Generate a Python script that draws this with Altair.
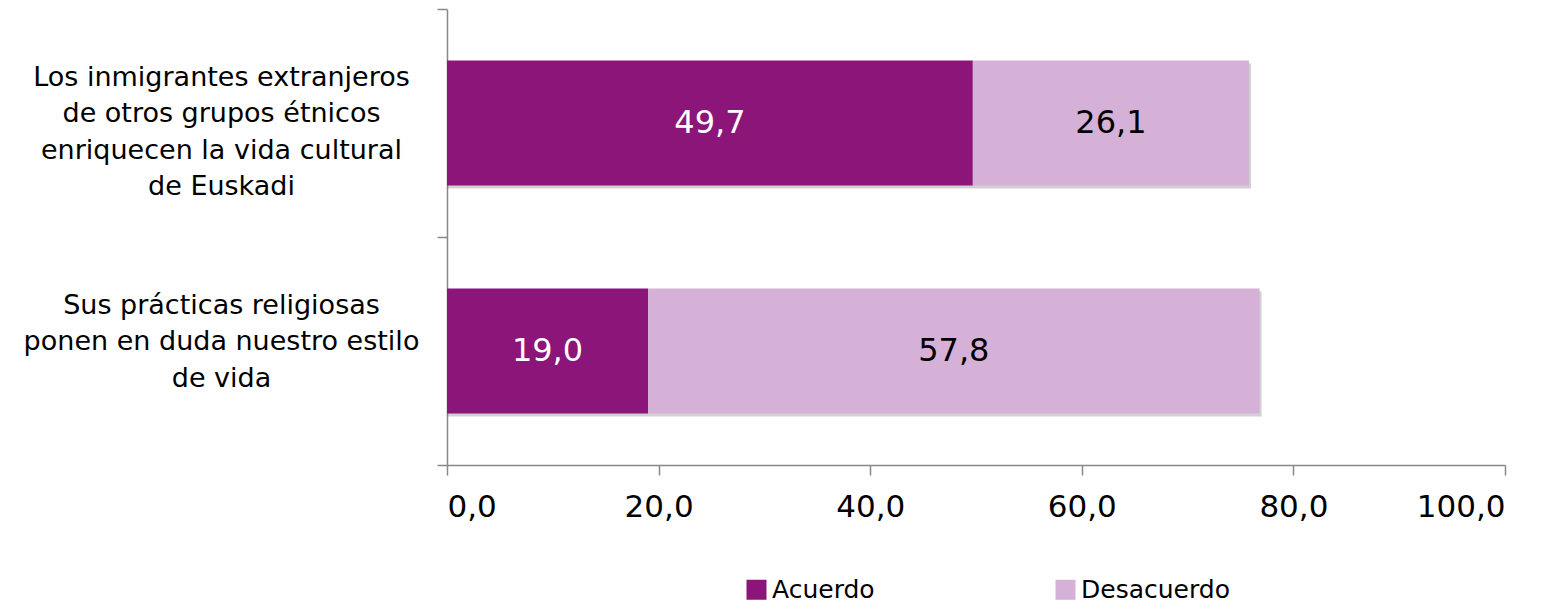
import altair as alt
import pandas as pd

categories = [
    "Los inmigrantes extranjeros|de otros grupos étnicos|enriquecen la vida cultural|de Euskadi",
    "Sus prácticas religiosas|ponen en duda nuestro estilo|de vida",
]
series = ["Acuerdo", "Desacuerdo"]
acuerdo = [49.7, 19.0]
desacuerdo = [26.1, 57.8]
colors = ["#8B1579", "#D5B1D8"]
text_colors = ["white", "black"]
x_ticks = [0, 20, 40, 60, 80, 100]

rows = []
for i, c in enumerate(categories):
    for j, (s, vals) in enumerate(zip(series, [acuerdo, desacuerdo])):
        rows.append({"category": c, "serie": s, "value": vals[i], "ord": j,
                     "tc": text_colors[j]})
df = pd.DataFrame(rows)

FONT = "DejaVu Sans"

y_enc = alt.Y(
    "category:N",
    sort=categories,
    scale=alt.Scale(paddingInner=0, paddingOuter=0),
    axis=alt.Axis(
        title=None,
        labelExpr="split(datum.label, '|')",
        labelAlign="center",
        labelBaseline="middle",
        labelPadding=216,
        labelOffset=-46,
        labelFontSize=27,
        labelLineHeight=36.5,
        labelFont=FONT,
        labelColor="black",
        labelLimit=600,
        tickBand="extent",
        tickSize=10,
        tickColor="#888888",
        domainColor="#888888",
        domainWidth=1.5,
        tickWidth=1.5,
    ),
)

x_scale = alt.Scale(domain=[0, 100], nice=False)
BAR = 125

shadow = alt.Chart(df).transform_aggregate(
    total="sum(value)", groupby=["category"]
).mark_bar(color="#666666", opacity=0.3, xOffset=2, yOffset=3, size=BAR).encode(
    x=alt.X("total:Q", scale=x_scale),
    x2=alt.datum(0),
    y=y_enc,
)

bars = alt.Chart(df).mark_bar(size=BAR).encode(
    x=alt.X(
        "value:Q",
        stack="zero",
        scale=x_scale,
        axis=alt.Axis(
            title=None,
            values=x_ticks,
            labelExpr="replace(format(datum.value, '.1f'), '.', ',')",
            labelFontSize=31,
            labelFont=FONT,
            labelColor="black",
            labelPadding=17,
            tickSize=10,
            grid=False,
            tickColor="#888888",
            domainColor="#888888",
            domainWidth=1.5,
            tickWidth=1.5,
        ),
    ),
    y=y_enc,
    color=alt.Color(
        "serie:N",
        scale=alt.Scale(domain=series, range=colors),
        legend=alt.Legend(
            title=None,
            orient="none",
            legendX=297,
            legendY=568,
            direction="horizontal",
            symbolType="square",
            symbolSize=400,
            symbolStrokeWidth=0,
            labelFontSize=25,
            labelFont=FONT,
            labelColor="black",
            labelOffset=3,
            columnPadding=178,
        ),
    ),
    order=alt.Order("ord:Q"),
)

texts = alt.Chart(df).transform_stack(
    stack="value", as_=["x0", "x1"], groupby=["category"],
    sort=[alt.SortField("ord", order="ascending")],
).transform_calculate(
    mid="(datum.x0 + datum.x1) / 2",
    label="replace(format(datum.value, '.1f'), '.', ',')",
).mark_text(fontSize=32, font=FONT, baseline="middle", align="center").encode(
    x=alt.X("mid:Q", scale=x_scale),
    y=y_enc,
    text=alt.Text("label:N"),
    color=alt.Color("tc:N", scale=None),
)

chart = alt.layer(shadow, bars, texts).properties(
    width=1058,
    height=456,
    background="white",
    autosize=alt.AutoSizeParams(type="none"),
    padding={"left": 439, "top": 1, "right": 43, "bottom": 138},
).configure_view(strokeWidth=0)

chart.save("out.html", embed_options={"renderer": "svg", "actions": False})
